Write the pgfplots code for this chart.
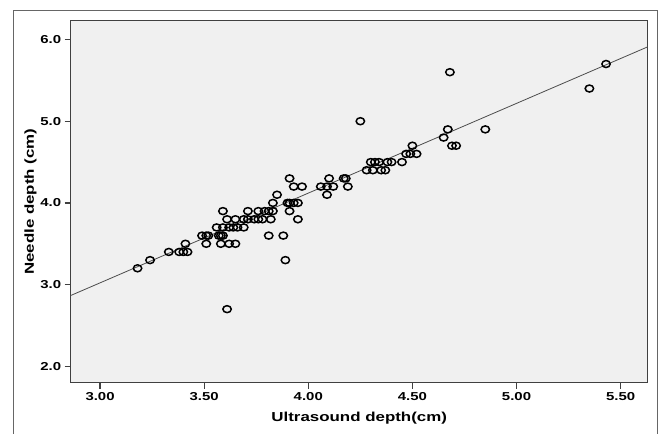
\documentclass[border=0pt]{standalone}
\usepackage{fontspec}
\setmainfont{Liberation Sans}[FakeStretch=1.3]
\usepackage{pgfplots}
\pgfplotsset{compat=1.18}
\definecolor{plotbg}{HTML}{F0F0F0}
\definecolor{frame}{HTML}{404040}

\pgfplotstableread{
u v
3.18 3.2
3.24 3.3
3.89 3.3
3.33 3.4
3.38 3.4
3.40 3.4
3.42 3.4
3.41 3.5
3.51 3.5
3.58 3.5
3.62 3.5
3.65 3.5
3.49 3.6
3.51 3.6
3.52 3.6
3.57 3.6
3.58 3.6
3.59 3.6
3.81 3.6
3.88 3.6
3.56 3.7
3.59 3.7
3.62 3.7
3.64 3.7
3.66 3.7
3.69 3.7
3.61 3.8
3.65 3.8
3.69 3.8
3.71 3.8
3.74 3.8
3.76 3.8
3.78 3.8
3.82 3.8
3.95 3.8
3.59 3.9
3.71 3.9
3.76 3.9
3.79 3.9
3.81 3.9
3.83 3.9
3.91 3.9
3.83 4.0
3.90 4.0
3.91 4.0
3.93 4.0
3.95 4.0
3.85 4.1
4.09 4.1
3.93 4.2
3.97 4.2
4.06 4.2
4.09 4.2
4.12 4.2
4.19 4.2
3.91 4.3
4.10 4.3
4.17 4.3
4.18 4.3
4.28 4.4
4.31 4.4
4.35 4.4
4.37 4.4
4.30 4.5
4.32 4.5
4.34 4.5
4.38 4.5
4.40 4.5
4.45 4.5
4.47 4.6
4.49 4.6
4.52 4.6
4.50 4.7
4.69 4.7
4.71 4.7
4.65 4.8
4.67 4.9
4.85 4.9
4.25 5.0
5.35 5.4
4.68 5.6
5.43 5.7
3.61 2.7
}\needle

\begin{document}
\begin{tikzpicture}
\useasboundingbox (0,0) rectangle (662pt,434pt);
\draw[frame!80, line width=0.8pt] (13pt,0) -- (13pt,424pt) -- (657pt,424pt) -- (657pt,0);
\begin{axis}[
    at={(70.7pt,51.3pt)}, anchor=south west,
    scale only axis,
    width=577pt, height=362pt,
    xmin=2.859, xmax=5.63,
    ymin=1.80, ymax=6.23,
    axis background/.style={fill=plotbg},
    axis line style={draw=frame, line width=1.3pt},
    xtick={3,3.5,4,4.5,5,5.5},
    ytick={2,3,4,5,6},
    xtick pos=bottom, ytick pos=left,
    tick align=outside,
    major tick length=6pt,
    tick style={draw=frame, line width=1.3pt},
    xticklabel style={/pgf/number format/.cd, fixed, fixed zerofill, precision=2},
    yticklabel style={/pgf/number format/.cd, fixed, fixed zerofill, precision=1},
    /pgf/number format/assume math mode=true,
    tick label style={font=\fontsize{11.5}{13}\selectfont\bfseries},
    label style={font=\fontsize{13}{15}\selectfont\bfseries},
    xlabel={Ultrasound depth(cm)},
    ylabel={Needle depth (cm)},
    xlabel style={yshift=-5pt},
    ylabel style={yshift=-3pt},
]
\addplot[draw=black!70, line width=0.8pt] coordinates {(2.859,2.867) (5.63,5.91)};
\addplot[only marks, mark=o, mark size=3.5pt,
    mark options={draw=black, line width=1.5pt, xscale=1.2}] table[x=u, y=v] {\needle};
\end{axis}
\end{tikzpicture}
\end{document}
